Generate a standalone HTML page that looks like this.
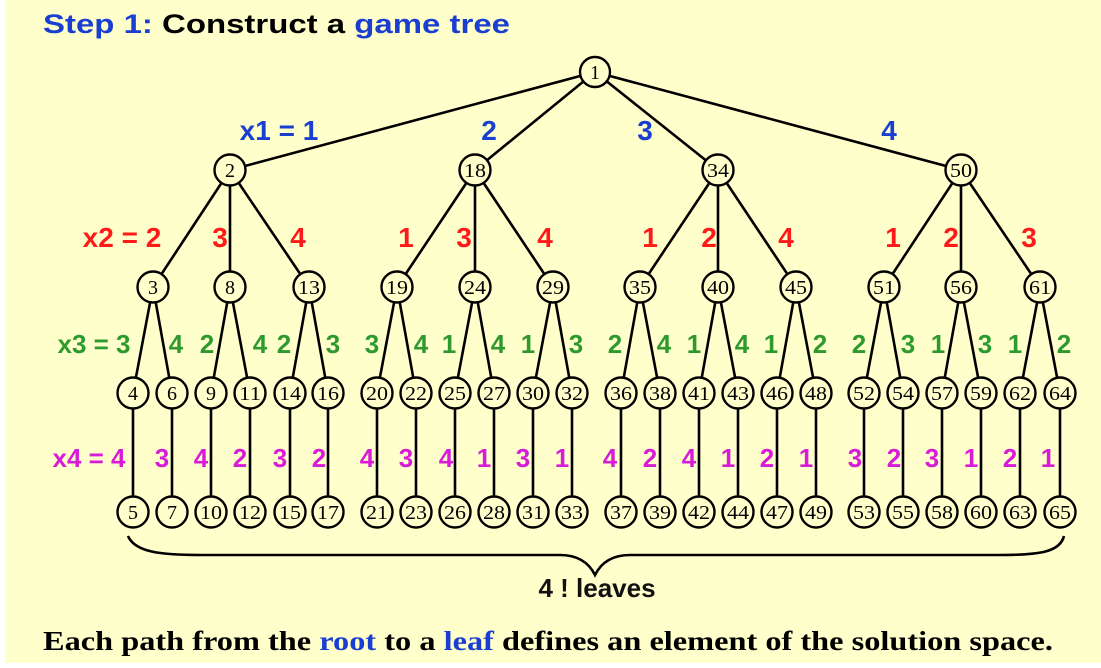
<!DOCTYPE html>
<html><head><meta charset="utf-8"><style>
html,body{margin:0;padding:0;background:#fff;}
svg{display:block;}
.n circle{fill:#ffffcc;stroke:#000;stroke-width:2.4;}
.n text{font-family:"Liberation Serif",serif;font-size:20px;text-anchor:middle;fill:#000;}
.e line{stroke:#000;stroke-width:2.6;}
.lb{font-family:"Liberation Sans",sans-serif;font-weight:bold;text-anchor:middle;}
.b{fill:#1a3fd0;font-size:28px;}
.r{fill:#ff1a1a;font-size:28px;}
.g{fill:#2e9a2e;font-size:26px;}
.m{fill:#d81bd8;font-size:26px;}
</style></head><body>
<svg width="1101" height="668" viewBox="0 0 1101 668" xmlns="http://www.w3.org/2000/svg">
<rect x="0" y="0" width="1101" height="668" fill="#fff"/>
<rect x="5" y="0" width="1096" height="663" fill="#ffffcc"/>
<text x="43" y="33" font-family="Liberation Sans, sans-serif" font-weight="bold" font-size="27" textLength="467" lengthAdjust="spacingAndGlyphs"><tspan fill="#1a3fd0">Step 1:</tspan><tspan fill="#000">  Construct a </tspan><tspan fill="#1a3fd0">game tree</tspan></text>

<g class="e">
<line x1="595" y1="72" x2="230" y2="170"/><line x1="595" y1="72" x2="475" y2="170"/><line x1="595" y1="72" x2="718" y2="170"/><line x1="595" y1="72" x2="961" y2="170"/>
<line x1="230" y1="170" x2="153" y2="287"/><line x1="230" y1="170" x2="230" y2="287"/><line x1="230" y1="170" x2="309" y2="287"/>
<line x1="475" y1="170" x2="397" y2="287"/><line x1="475" y1="170" x2="475" y2="287"/><line x1="475" y1="170" x2="553" y2="287"/>
<line x1="718" y1="170" x2="640" y2="287"/><line x1="718" y1="170" x2="718" y2="287"/><line x1="718" y1="170" x2="796" y2="287"/>
<line x1="961" y1="170" x2="884" y2="287"/><line x1="961" y1="170" x2="961" y2="287"/><line x1="961" y1="170" x2="1040" y2="287"/>
<line x1="153" y1="287" x2="133" y2="393"/><line x1="153" y1="287" x2="172" y2="393"/>
<line x1="230" y1="287" x2="211" y2="393"/><line x1="230" y1="287" x2="250" y2="393"/>
<line x1="309" y1="287" x2="290" y2="393"/><line x1="309" y1="287" x2="328" y2="393"/>
<line x1="397" y1="287" x2="377" y2="393"/><line x1="397" y1="287" x2="416" y2="393"/>
<line x1="475" y1="287" x2="455" y2="393"/><line x1="475" y1="287" x2="494" y2="393"/>
<line x1="553" y1="287" x2="533" y2="393"/><line x1="553" y1="287" x2="572" y2="393"/>
<line x1="640" y1="287" x2="621" y2="393"/><line x1="640" y1="287" x2="660" y2="393"/>
<line x1="718" y1="287" x2="699" y2="393"/><line x1="718" y1="287" x2="738" y2="393"/>
<line x1="796" y1="287" x2="777" y2="393"/><line x1="796" y1="287" x2="816" y2="393"/>
<line x1="884" y1="287" x2="864" y2="393"/><line x1="884" y1="287" x2="903" y2="393"/>
<line x1="961" y1="287" x2="942" y2="393"/><line x1="961" y1="287" x2="981" y2="393"/>
<line x1="1040" y1="287" x2="1020" y2="393"/><line x1="1040" y1="287" x2="1060" y2="393"/>
<line x1="133" y1="393" x2="133" y2="512"/><line x1="172" y1="393" x2="172" y2="512"/><line x1="211" y1="393" x2="211" y2="512"/><line x1="250" y1="393" x2="250" y2="512"/><line x1="290" y1="393" x2="290" y2="512"/><line x1="328" y1="393" x2="328" y2="512"/>
<line x1="377" y1="393" x2="377" y2="512"/><line x1="416" y1="393" x2="416" y2="512"/><line x1="455" y1="393" x2="455" y2="512"/><line x1="494" y1="393" x2="494" y2="512"/><line x1="533" y1="393" x2="533" y2="512"/><line x1="572" y1="393" x2="572" y2="512"/>
<line x1="621" y1="393" x2="621" y2="512"/><line x1="660" y1="393" x2="660" y2="512"/><line x1="699" y1="393" x2="699" y2="512"/><line x1="738" y1="393" x2="738" y2="512"/><line x1="777" y1="393" x2="777" y2="512"/><line x1="816" y1="393" x2="816" y2="512"/>
<line x1="864" y1="393" x2="864" y2="512"/><line x1="903" y1="393" x2="903" y2="512"/><line x1="942" y1="393" x2="942" y2="512"/><line x1="981" y1="393" x2="981" y2="512"/><line x1="1020" y1="393" x2="1020" y2="512"/><line x1="1060" y1="393" x2="1060" y2="512"/>
</g>

<g class="n">
<circle cx="595" cy="72" r="15"/><text x="595" y="79">1</text>
<circle cx="230" cy="170" r="15.5"/><text x="230" y="177">2</text>
<circle cx="475" cy="170" r="15.5"/><text x="475" y="177" textLength="22" lengthAdjust="spacingAndGlyphs">18</text>
<circle cx="718" cy="170" r="15.5"/><text x="718" y="177" textLength="22" lengthAdjust="spacingAndGlyphs">34</text>
<circle cx="961" cy="170" r="15.5"/><text x="961" y="177" textLength="22" lengthAdjust="spacingAndGlyphs">50</text>

<circle cx="153" cy="287" r="15.5"/><text x="153" y="294">3</text>
<circle cx="230" cy="287" r="15.5"/><text x="230" y="294">8</text>
<circle cx="309" cy="287" r="15.5"/><text x="309" y="294" textLength="22" lengthAdjust="spacingAndGlyphs">13</text>
<circle cx="397" cy="287" r="15.5"/><text x="397" y="294" textLength="22" lengthAdjust="spacingAndGlyphs">19</text>
<circle cx="475" cy="287" r="15.5"/><text x="475" y="294" textLength="22" lengthAdjust="spacingAndGlyphs">24</text>
<circle cx="553" cy="287" r="15.5"/><text x="553" y="294" textLength="22" lengthAdjust="spacingAndGlyphs">29</text>
<circle cx="640" cy="287" r="15.5"/><text x="640" y="294" textLength="22" lengthAdjust="spacingAndGlyphs">35</text>
<circle cx="718" cy="287" r="15.5"/><text x="718" y="294" textLength="22" lengthAdjust="spacingAndGlyphs">40</text>
<circle cx="796" cy="287" r="15.5"/><text x="796" y="294" textLength="22" lengthAdjust="spacingAndGlyphs">45</text>
<circle cx="884" cy="287" r="15.5"/><text x="884" y="294" textLength="22" lengthAdjust="spacingAndGlyphs">51</text>
<circle cx="961" cy="287" r="15.5"/><text x="961" y="294" textLength="22" lengthAdjust="spacingAndGlyphs">56</text>
<circle cx="1040" cy="287" r="15.5"/><text x="1040" y="294" textLength="22" lengthAdjust="spacingAndGlyphs">61</text>

<circle cx="133" cy="393" r="15.5"/><text x="133" y="400">4</text>
<circle cx="172" cy="393" r="15.5"/><text x="172" y="400">6</text>
<circle cx="211" cy="393" r="15.5"/><text x="211" y="400">9</text>
<circle cx="250" cy="393" r="15.5"/><text x="250" y="400" textLength="22" lengthAdjust="spacingAndGlyphs">11</text>
<circle cx="290" cy="393" r="15.5"/><text x="290" y="400" textLength="22" lengthAdjust="spacingAndGlyphs">14</text>
<circle cx="328" cy="393" r="15.5"/><text x="328" y="400" textLength="22" lengthAdjust="spacingAndGlyphs">16</text>
<circle cx="377" cy="393" r="15.5"/><text x="377" y="400" textLength="22" lengthAdjust="spacingAndGlyphs">20</text>
<circle cx="416" cy="393" r="15.5"/><text x="416" y="400" textLength="22" lengthAdjust="spacingAndGlyphs">22</text>
<circle cx="455" cy="393" r="15.5"/><text x="455" y="400" textLength="22" lengthAdjust="spacingAndGlyphs">25</text>
<circle cx="494" cy="393" r="15.5"/><text x="494" y="400" textLength="22" lengthAdjust="spacingAndGlyphs">27</text>
<circle cx="533" cy="393" r="15.5"/><text x="533" y="400" textLength="22" lengthAdjust="spacingAndGlyphs">30</text>
<circle cx="572" cy="393" r="15.5"/><text x="572" y="400" textLength="22" lengthAdjust="spacingAndGlyphs">32</text>
<circle cx="621" cy="393" r="15.5"/><text x="621" y="400" textLength="22" lengthAdjust="spacingAndGlyphs">36</text>
<circle cx="660" cy="393" r="15.5"/><text x="660" y="400" textLength="22" lengthAdjust="spacingAndGlyphs">38</text>
<circle cx="699" cy="393" r="15.5"/><text x="699" y="400" textLength="22" lengthAdjust="spacingAndGlyphs">41</text>
<circle cx="738" cy="393" r="15.5"/><text x="738" y="400" textLength="22" lengthAdjust="spacingAndGlyphs">43</text>
<circle cx="777" cy="393" r="15.5"/><text x="777" y="400" textLength="22" lengthAdjust="spacingAndGlyphs">46</text>
<circle cx="816" cy="393" r="15.5"/><text x="816" y="400" textLength="22" lengthAdjust="spacingAndGlyphs">48</text>
<circle cx="864" cy="393" r="15.5"/><text x="864" y="400" textLength="22" lengthAdjust="spacingAndGlyphs">52</text>
<circle cx="903" cy="393" r="15.5"/><text x="903" y="400" textLength="22" lengthAdjust="spacingAndGlyphs">54</text>
<circle cx="942" cy="393" r="15.5"/><text x="942" y="400" textLength="22" lengthAdjust="spacingAndGlyphs">57</text>
<circle cx="981" cy="393" r="15.5"/><text x="981" y="400" textLength="22" lengthAdjust="spacingAndGlyphs">59</text>
<circle cx="1020" cy="393" r="15.5"/><text x="1020" y="400" textLength="22" lengthAdjust="spacingAndGlyphs">62</text>
<circle cx="1060" cy="393" r="15.5"/><text x="1060" y="400" textLength="22" lengthAdjust="spacingAndGlyphs">64</text>

<circle cx="133" cy="512" r="15.5"/><text x="133" y="519">5</text>
<circle cx="172" cy="512" r="15.5"/><text x="172" y="519">7</text>
<circle cx="211" cy="512" r="15.5"/><text x="211" y="519" textLength="22" lengthAdjust="spacingAndGlyphs">10</text>
<circle cx="250" cy="512" r="15.5"/><text x="250" y="519" textLength="22" lengthAdjust="spacingAndGlyphs">12</text>
<circle cx="290" cy="512" r="15.5"/><text x="290" y="519" textLength="22" lengthAdjust="spacingAndGlyphs">15</text>
<circle cx="328" cy="512" r="15.5"/><text x="328" y="519" textLength="22" lengthAdjust="spacingAndGlyphs">17</text>
<circle cx="377" cy="512" r="15.5"/><text x="377" y="519" textLength="22" lengthAdjust="spacingAndGlyphs">21</text>
<circle cx="416" cy="512" r="15.5"/><text x="416" y="519" textLength="22" lengthAdjust="spacingAndGlyphs">23</text>
<circle cx="455" cy="512" r="15.5"/><text x="455" y="519" textLength="22" lengthAdjust="spacingAndGlyphs">26</text>
<circle cx="494" cy="512" r="15.5"/><text x="494" y="519" textLength="22" lengthAdjust="spacingAndGlyphs">28</text>
<circle cx="533" cy="512" r="15.5"/><text x="533" y="519" textLength="22" lengthAdjust="spacingAndGlyphs">31</text>
<circle cx="572" cy="512" r="15.5"/><text x="572" y="519" textLength="22" lengthAdjust="spacingAndGlyphs">33</text>
<circle cx="621" cy="512" r="15.5"/><text x="621" y="519" textLength="22" lengthAdjust="spacingAndGlyphs">37</text>
<circle cx="660" cy="512" r="15.5"/><text x="660" y="519" textLength="22" lengthAdjust="spacingAndGlyphs">39</text>
<circle cx="699" cy="512" r="15.5"/><text x="699" y="519" textLength="22" lengthAdjust="spacingAndGlyphs">42</text>
<circle cx="738" cy="512" r="15.5"/><text x="738" y="519" textLength="22" lengthAdjust="spacingAndGlyphs">44</text>
<circle cx="777" cy="512" r="15.5"/><text x="777" y="519" textLength="22" lengthAdjust="spacingAndGlyphs">47</text>
<circle cx="816" cy="512" r="15.5"/><text x="816" y="519" textLength="22" lengthAdjust="spacingAndGlyphs">49</text>
<circle cx="864" cy="512" r="15.5"/><text x="864" y="519" textLength="22" lengthAdjust="spacingAndGlyphs">53</text>
<circle cx="903" cy="512" r="15.5"/><text x="903" y="519" textLength="22" lengthAdjust="spacingAndGlyphs">55</text>
<circle cx="942" cy="512" r="15.5"/><text x="942" y="519" textLength="22" lengthAdjust="spacingAndGlyphs">58</text>
<circle cx="981" cy="512" r="15.5"/><text x="981" y="519" textLength="22" lengthAdjust="spacingAndGlyphs">60</text>
<circle cx="1020" cy="512" r="15.5"/><text x="1020" y="519" textLength="22" lengthAdjust="spacingAndGlyphs">63</text>
<circle cx="1060" cy="512" r="15.5"/><text x="1060" y="519" textLength="22" lengthAdjust="spacingAndGlyphs">65</text>
</g>

<g class="lb b">
<text x="279" y="140">x1 = 1</text><text x="489" y="140">2</text><text x="645" y="140">3</text><text x="889" y="140">4</text>
</g>
<g class="lb r">
<text x="122" y="247">x2 = 2</text><text x="220" y="247">3</text><text x="298" y="247">4</text>
<text x="406" y="247">1</text><text x="464" y="247">3</text><text x="545" y="247">4</text>
<text x="650" y="247">1</text><text x="709" y="247">2</text><text x="786" y="247">4</text>
<text x="893" y="247">1</text><text x="951" y="247">2</text><text x="1029" y="247">3</text>
</g>
<g class="lb g">
<text x="94" y="353">x3 = 3</text><text x="176" y="353">4</text><text x="207" y="353">2</text><text x="260" y="353">4</text><text x="284" y="353">2</text><text x="333" y="353">3</text>
<text x="372" y="353">3</text><text x="421" y="353">4</text><text x="449" y="353">1</text><text x="498" y="353">4</text><text x="528" y="353">1</text><text x="576" y="353">3</text>
<text x="615" y="353">2</text><text x="664" y="353">4</text><text x="694" y="353">1</text><text x="742" y="353">4</text><text x="771" y="353">1</text><text x="820" y="353">2</text>
<text x="859" y="353">2</text><text x="908" y="353">3</text><text x="938" y="353">1</text><text x="985" y="353">3</text><text x="1015" y="353">1</text><text x="1064" y="353">2</text>
</g>
<g class="lb m">
<text x="89" y="467">x4 = 4</text><text x="162" y="467">3</text><text x="201" y="467">4</text><text x="240" y="467">2</text><text x="280" y="467">3</text><text x="319" y="467">2</text>
<text x="367" y="467">4</text><text x="406" y="467">3</text><text x="446" y="467">4</text><text x="484" y="467">1</text><text x="523" y="467">3</text><text x="562" y="467">1</text>
<text x="610" y="467">4</text><text x="650" y="467">2</text><text x="689" y="467">4</text><text x="728" y="467">1</text><text x="767" y="467">2</text><text x="806" y="467">1</text>
<text x="855" y="467">3</text><text x="894" y="467">2</text><text x="932" y="467">3</text><text x="971" y="467">1</text><text x="1010" y="467">2</text><text x="1048" y="467">1</text>
</g>

<path d="M128,536 C135,552 160,555 200,555 L560,555 C580,555 590,565 595,575 C600,565 610,555 630,555 L1000,555 C1040,555 1060,552 1064,536" fill="none" stroke="#000" stroke-width="2.6"/>
<text x="597" y="597" font-family="Liberation Sans, sans-serif" font-weight="bold" font-size="26" text-anchor="middle" fill="#111">4 ! leaves</text>

<text x="43" y="650" font-family="Liberation Serif, serif" font-weight="bold" font-size="27" textLength="1010" lengthAdjust="spacingAndGlyphs" fill="#000">Each path from the <tspan fill="#1a3fd0">root</tspan> to a <tspan fill="#1a3fd0">leaf</tspan> defines an element of the solution space.</text>
</svg>
</body></html>
